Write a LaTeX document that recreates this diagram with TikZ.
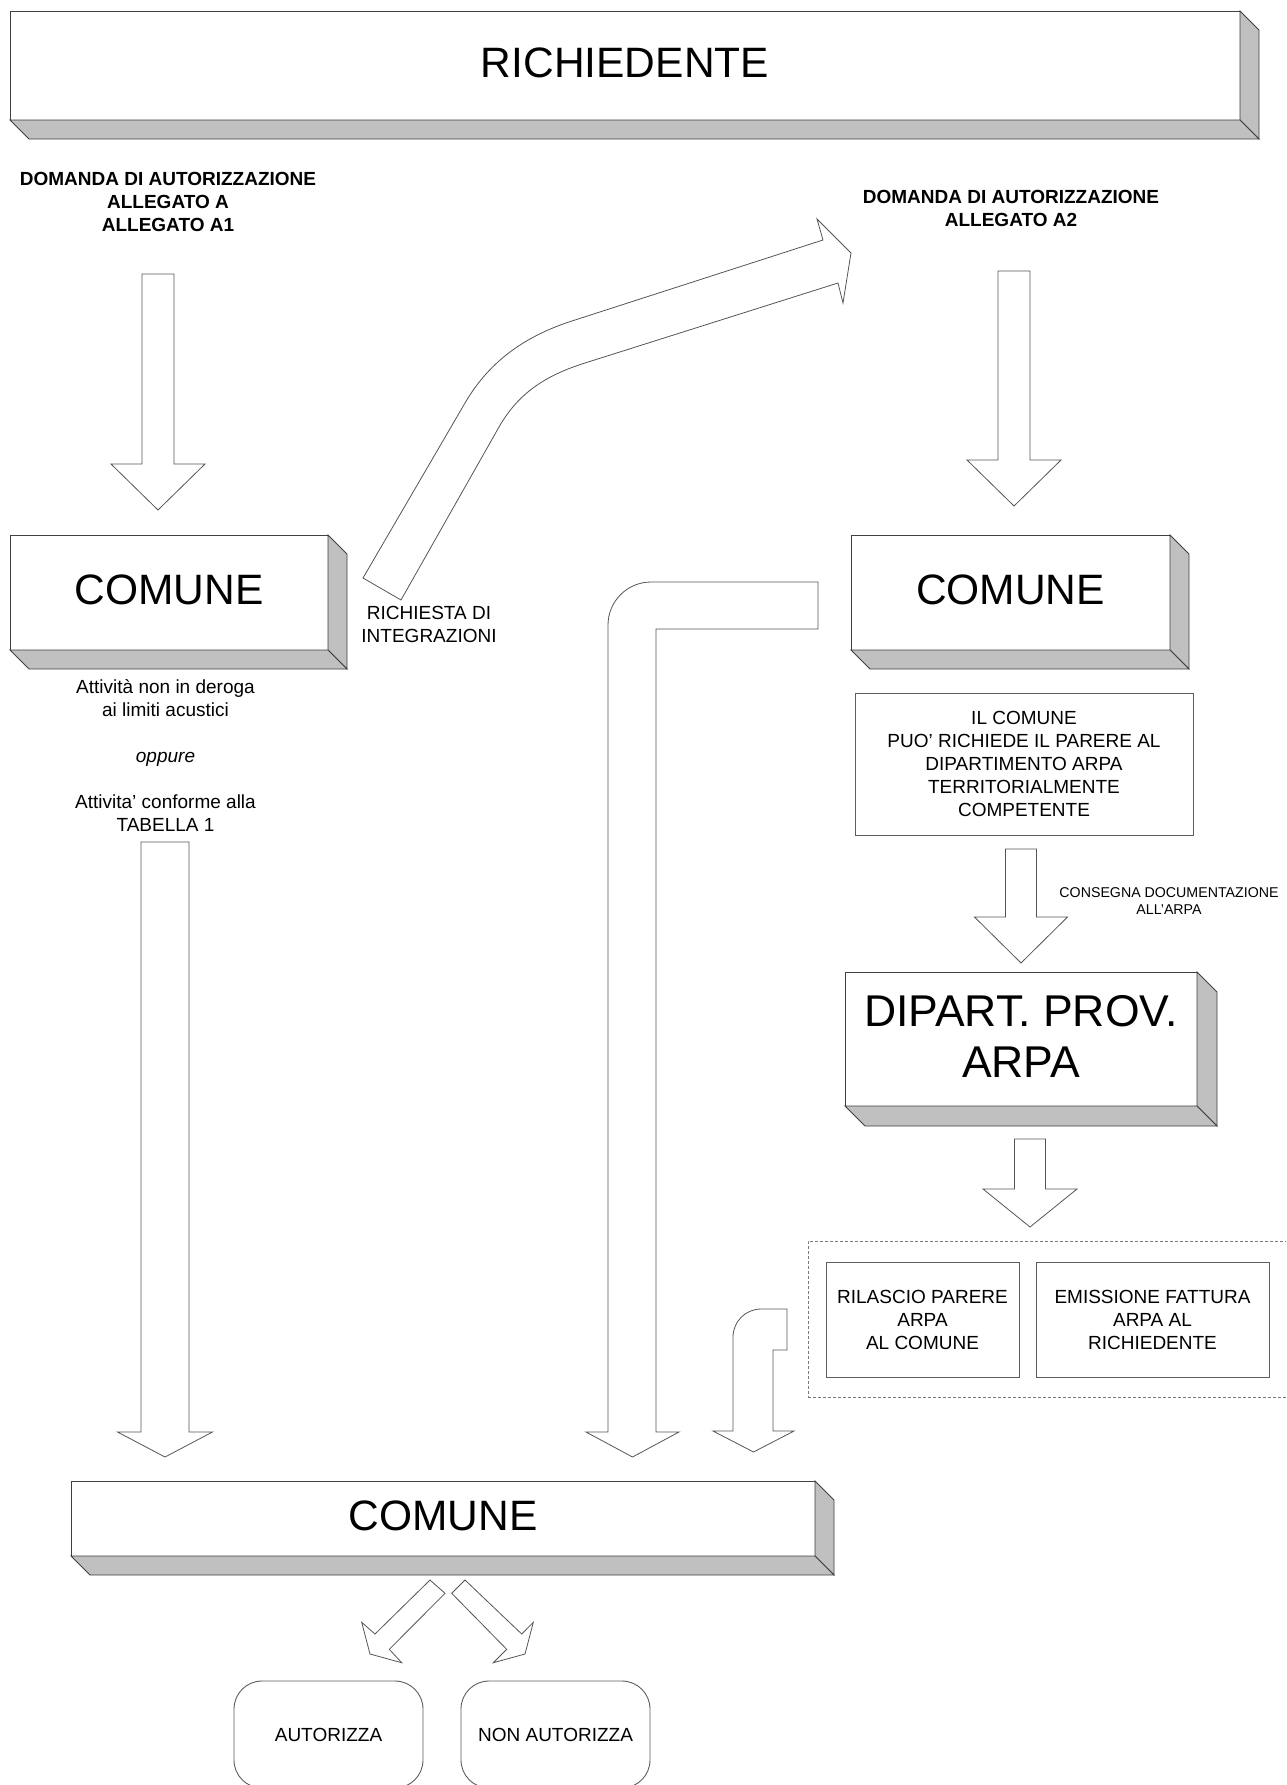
\documentclass[tikz,border=0pt]{standalone}
\usepackage{fontspec}
\setmainfont{Liberation Sans}

\definecolor{edgegray}{HTML}{404040}
\definecolor{arrowgray}{HTML}{555555}
\definecolor{shadowgray}{HTML}{C0C0C0}

\tikzset{
  bigtxt/.style={font=\fontsize{42.5}{51}\selectfont},
  txt/.style={font=\fontsize{19}{23}\selectfont},
  boldtxt/.style={font=\fontsize{19}{23}\selectfont\bfseries},
  smalltxt/.style={font=\fontsize{14.2}{17}\selectfont},
  frontbox/.style={draw=edgegray, fill=white, line width=0.9pt, outer sep=0pt, inner sep=0pt, align=center, text depth=5pt, bigtxt},
  sideface/.style={draw=edgegray, fill=shadowgray, line width=0.9pt},
  flatbox/.style={draw=edgegray!85, line width=0.9pt, outer sep=0pt, inner sep=0pt, align=center, txt},
  blockarrow/.style={draw=arrowgray, fill=white, line width=0.8pt},
}

% grey right and bottom faces of a raised box
\newcommand{\sidefaces}[2]{%
  \draw[sideface] (#1.north east) -- ++(#2,#2) -- ([shift={(#2,#2)}]#1.south east) -- (#1.south east) -- cycle;
  \draw[sideface] (#1.south west) -- ++(#2,#2) -- ([shift={(#2,#2)}]#1.south east) -- (#1.south east) -- cycle;}

% hollow arrow pointing down: x, top, head base, tip, half shaft, half head
\newcommand{\blockdown}[6]{%
  \draw[blockarrow] (#1-#5,#2) -- (#1+#5,#2) -- (#1+#5,#3) -- (#1+#6,#3) -- (#1,#4) -- (#1-#6,#3) -- (#1-#5,#3) -- cycle;}

\begin{document}
\begin{tikzpicture}[x=1pt, y=-1pt]
    \useasboundingbox (0,0) rectangle (1286,1785);
    \clip (0,0) rectangle (1286,1785);

    % Applicant
    \node[frontbox, minimum width=1230pt, minimum height=109pt] (richiedente) at (625,65.5) {RICHIEDENTE};
    \sidefaces{richiedente}{19}

    % Applications
    \node[boldtxt, align=center] (domandaA) at (168,202) {DOMANDA DI AUTORIZZAZIONE\\ALLEGATO A\\ALLEGATO A1};
    \node[boldtxt, align=center] (domandaB) at (1011,208) {DOMANDA DI AUTORIZZAZIONE\\ALLEGATO A2};

    % Left branch
    \blockdown{158}{274}{464}{510}{16}{47}
    \node[frontbox, minimum width=318pt, minimum height=115pt] (comuneA) at (169,592.5) {COMUNE};
    \sidefaces{comuneA}{19}
    \node[txt, align=center] (noteA) at (165.5,755) {Attività non in deroga\\ai limiti acustici\\[23pt]\textit{oppure}\\[23pt]Attivita’ conforme alla\\TABELLA 1};
    \blockdown{165}{842}{1432}{1457}{24}{47.5}

    % Request for additions
    \draw[blockarrow] (363,578) -- (465,403) .. controls (490,360) and (527,335) .. (575,320)
      -- (823,240) -- (817,219) -- (851,253) -- (843,303) -- (838,283) -- (585,363)
      .. controls (547,375) and (519,392) .. (499,427) -- (401,600) -- cycle;
    \node[txt, align=center] (richiesta) at (429,624.5) {RICHIESTA DI\\INTEGRAZIONI};

    % Right branch
    \blockdown{1014}{271}{460}{506}{16}{47}
    \node[frontbox, minimum width=319pt, minimum height=115pt] (comuneB) at (1010.5,592.5) {COMUNE};
    \sidefaces{comuneB}{19}
    \node[flatbox, minimum width=338pt, minimum height=142pt] (parere) at (1024,764) {IL COMUNE\\PUO’ RICHIEDE IL PARERE AL\\DIPARTIMENTO ARPA\\TERRITORIALMENTE\\COMPETENTE};
    \blockdown{1021}{849}{917}{963}{15.5}{46.5}
    \node[smalltxt, align=center] (consegna) at (1169,901.5) {CONSEGNA DOCUMENTAZIONE\\ALL’ARPA};
    \node[frontbox, font=\fontsize{44.5}{51}\selectfont, minimum width=352pt, minimum height=134pt] (arpa) at (1021,1039) {DIPART. PROV.\\ARPA};
    \sidefaces{arpa}{20}
    \blockdown{1030}{1139}{1189}{1227}{15.5}{47}

    % ARPA outcome
    \node[draw=edgegray!70, dash pattern=on 3pt off 2pt, line width=0.8pt, minimum width=492pt, minimum height=156pt] (esito) at (1054,1319) {};
    \node[flatbox, minimum width=193pt, minimum height=115pt] (rilascio) at (922.5,1319.5) {RILASCIO PARERE\\ARPA\\AL COMUNE};
    \node[flatbox, minimum width=233pt, minimum height=115pt] (fattura) at (1152.5,1319.5) {EMISSIONE FATTURA\\ARPA AL\\RICHIEDENTE};

    % Returns to the municipality
    \draw[blockarrow] (818,629) -- (656,629) -- (656,1432) -- (679,1432) -- (632.5,1457) -- (586,1432) -- (608,1432)
      -- (608,625) arc[start angle=180, end angle=270, radius=43] -- (818,582) -- cycle;
    \draw[blockarrow] (787,1350) -- (773,1350) -- (773,1431) -- (794,1431) -- (753.5,1452) -- (713,1431) -- (733,1431)
      -- (733,1337) arc[start angle=180, end angle=270, radius=28] -- (787,1309) -- cycle;

    % Final decision
    \node[frontbox, minimum width=744pt, minimum height=75pt] (comuneC) at (443,1518.5) {COMUNE};
    \sidefaces{comuneC}{19}
    \draw[blockarrow] (430,1580) -- (375,1634) -- (361.7,1622.3) -- (370,1654) -- (401.7,1662.7) -- (389.3,1649.3) -- (445,1593.3) -- cycle;
    \draw[blockarrow] (465,1580) -- (521.7,1634) -- (533.3,1622.3) -- (525,1654) -- (493.3,1662.7) -- (506.7,1649.3) -- (451.7,1593.3) -- cycle;
    \node[flatbox, rounded corners=28pt, minimum width=189pt, minimum height=107pt] (autorizza) at (328.5,1734.5) {AUTORIZZA};
    \node[flatbox, rounded corners=28pt, minimum width=189pt, minimum height=107pt] (nonautorizza) at (555.5,1734.5) {NON AUTORIZZA};
\end{tikzpicture}
\end{document}
